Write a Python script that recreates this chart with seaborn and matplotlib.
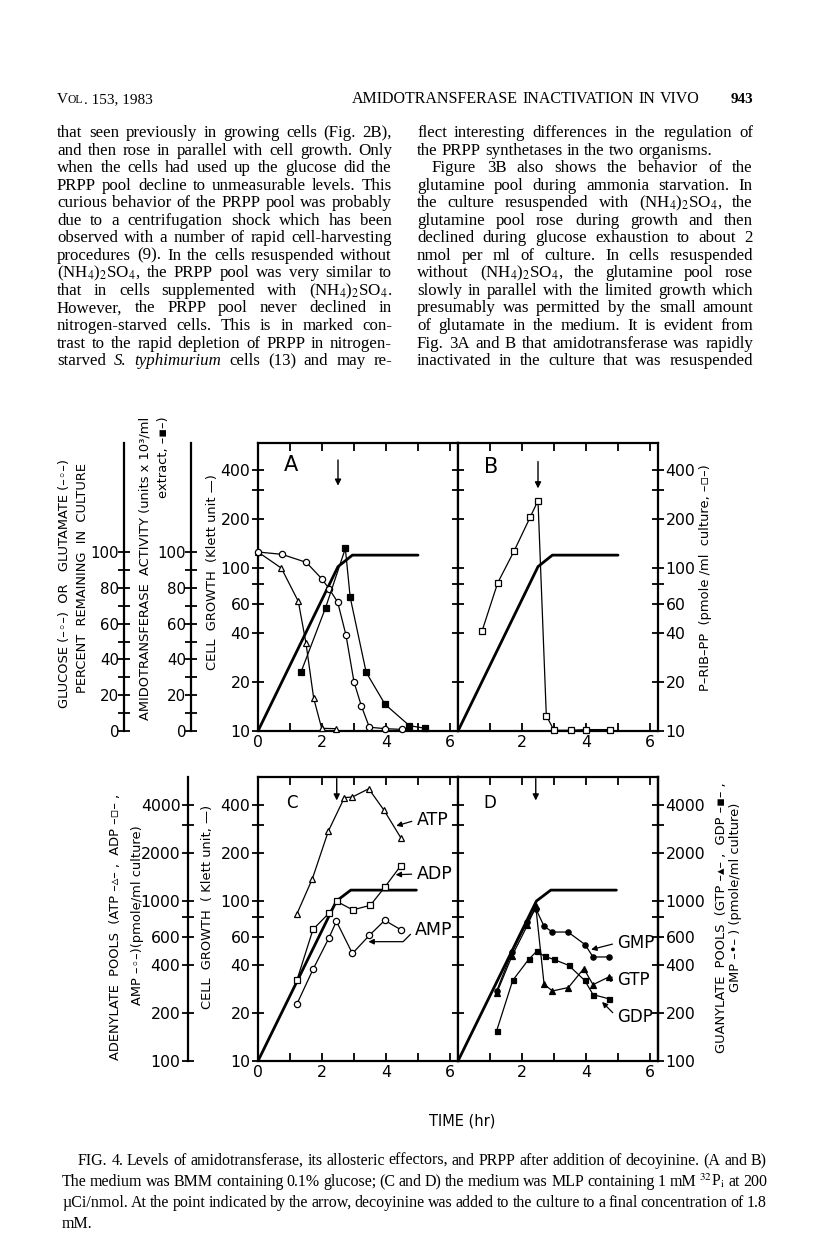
import matplotlib
matplotlib.use("Agg")
import matplotlib.pyplot as plt
from matplotlib.ticker import FixedLocator, NullFormatter, FuncFormatter
import seaborn as sns

# ---------------- data (time in hr) ----------------
# panel A : percent remaining / amidotransferase activity (linear 0-100 scale)
glucose_t = [0, 0.73, 1.26, 1.5, 1.74, 1.99, 2.44]
glucose = [100, 91, 72.4, 49, 18.3, 1.5, 1.3]
glutamate_t = [0, 0.75, 1.51, 1.99, 2.22, 2.49, 2.75, 3.0, 3.23, 3.48, 3.98, 4.49]
glutamate = [100, 98.7, 94.2, 85.1, 79.5, 72.0, 53.5, 27.4, 14.0, 2.1, 1.3, 0.9]
amido_t = [1.35, 2.11, 2.73, 2.88, 3.38, 3.97, 4.73, 5.22]
amido = [33.2, 68.8, 102, 74.8, 32.8, 14.9, 3.0, 1.5]

# cell growth (Klett units)
growth_t_ab = [0, 2.5, 2.95, 5.0]
growth_ab = [10, 102, 120, 120]
growth_t_cd = [0, 2.45, 2.9, 4.95]
growth_cd = [10, 100, 117, 117]

# panel B : P-RIB-PP (pmole/ml culture)
prpp_t = [0.75, 1.24, 1.76, 2.26, 2.5, 2.76, 3.0, 3.52, 4.0, 4.75]
prpp = [41, 81, 128, 206, 259, 12.4, 10.1, 10.1, 10.2, 10.2]

# panel C : adenylate pools (pmole/ml culture)
atp_t = [1.22, 1.70, 2.20, 2.70, 2.95, 3.46, 3.94, 4.46]
atp = [834, 1380, 2740, 4430, 4470, 5030, 3690, 2490]
adp_t = [1.22, 1.72, 2.22, 2.46, 2.96, 3.51, 3.96, 4.46]
adp = [322, 665, 840, 995, 880, 940, 1220, 1660]
amp_t = [1.22, 1.72, 2.22, 2.45, 2.95, 3.48, 3.96, 4.46]
amp = [228, 374, 590, 747, 470, 610, 757, 662]

# panel D : guanylate pools (pmole/ml culture)
gmp_t = [1.21, 1.69, 2.17, 2.43, 2.69, 2.95, 3.44, 3.97, 4.22, 4.71]
gmp = [275, 480, 740, 897, 695, 640, 640, 534, 447, 447]
gtp_t = [1.21, 1.69, 2.17, 2.43, 2.69, 2.95, 3.45, 3.93, 4.22, 4.71]
gtp = [266, 455, 705, 926, 302, 274, 288, 378, 300, 335]
gdp_t = [1.21, 1.71, 2.21, 2.46, 2.71, 3.0, 3.46, 3.96, 4.22, 4.71]
gdp = [155, 319, 432, 485, 451, 431, 396, 319, 260, 245]

decoyinine_t = 2.5

klett_major = [10, 20, 40, 60, 100, 200, 400]
klett_minor = [80, 300]
pool_major = [100, 200, 400, 600, 1000, 2000, 4000]
pool_minor = [800, 3000]
pct_major = [0, 20, 40, 60, 80, 100]
pct_minor = [10, 30, 50, 70, 90]

left_col = [
    "that seen previously in growing cells (Fig. 2B),",
    "and then rose in parallel with cell growth. Only",
    "when the cells had used up the glucose did the",
    "PRPP pool decline to unmeasurable levels. This",
    "curious behavior of the PRPP pool was probably",
    "due to a centrifugation shock which has been",
    "observed with a number of rapid cell-harvesting",
    "procedures (9). In the cells resuspended without",
    "(NH$_4$)$_2$SO$_4$, the PRPP pool was very similar to",
    "that in cells supplemented with (NH$_4$)$_2$SO$_4$.",
    "However, the PRPP pool never declined in",
    "nitrogen-starved cells. This is in marked con-",
    "trast to the rapid depletion of PRPP in nitrogen-",
    "starved ~S. ~typhimurium cells (13) and may re-",
]
right_col = [
    "flect interesting differences in the regulation of",
    "the PRPP synthetases in the two organisms.",
    "Figure 3B also shows the behavior of the",
    "glutamine pool during ammonia starvation. In",
    "the culture resuspended with (NH$_4$)$_2$SO$_4$, the",
    "glutamine pool rose during growth and then",
    "declined during glucose exhaustion to about 2",
    "nmol per ml of culture. In cells resuspended",
    "without (NH$_4$)$_2$SO$_4$, the glutamine pool rose",
    "slowly in parallel with the limited growth which",
    "presumably was permitted by the small amount",
    "of glutamate in the medium. It is evident from",
    "Fig. 3A and B that amidotransferase was rapidly",
    "inactivated in the culture that was resuspended",
]
caption_lines = [
    "FIG. 4.  Levels of amidotransferase, its allosteric effectors, and PRPP after addition of decoyinine. (A and B)",
    "The medium was BMM containing 0.1% glucose; (C and D) the medium was MLP containing 1 mM $^{32}$P$_\\mathrm{i}$ at 200",
    "\u00b5Ci/nmol. At the point indicated by the arrow, decoyinine was added to the culture to a final concentration of 1.8",
    "mM.",
]

# ---------------- style ----------------
sns.set_style("ticks")
plt.rcParams["font.family"] = ["DejaVu Sans"]
plt.rcParams["mathtext.fontset"] = "stix"
plt.rcParams.update({"axes.edgecolor": "black", "xtick.color": "black",
                     "ytick.color": "black", "text.color": "black"})

W, H = 816, 1248
fig = plt.figure(figsize=(W / 100, H / 100), dpi=100)
fig.patch.set_facecolor("white")
renderer = fig.canvas.get_renderer()
SERIF = "Liberation Serif"
TICK_FS = 11.3


def fy(y):
    return 1 - y / H


def panel(left, top, bottom):
    return fig.add_axes([left / W, fy(bottom), 200 / W, (bottom - top) / H])


def log_ticks(axis, major, minor, labels=True):
    axis.set_major_locator(FixedLocator(major))
    axis.set_minor_locator(FixedLocator(minor))
    axis.set_minor_formatter(NullFormatter())
    if labels:
        axis.set_major_formatter(FuncFormatter(lambda v, p: f"{v:g}"))
    else:
        axis.set_major_formatter(NullFormatter())


def side_axis(ax, where, pos=None, fs=TICK_FS, pad=1):
    t = ax.twinx()
    for s in t.spines.values():
        s.set_visible(False)
    t.spines[where].set_visible(True)
    t.spines[where].set_linewidth(1.6)
    if pos is not None:
        t.spines[where].set_position(("axes", pos))
    t.yaxis.set_ticks_position(where)
    t.yaxis.set_label_position(where)
    t.tick_params(axis="y", which="both", direction="inout", length=9, width=1.3,
                  labelsize=fs, pad=pad)
    return t


def series(ax, x, y, marker, face, ms=4.8):
    sns.lineplot(x=x, y=y, ax=ax, color="black", linewidth=0.9, marker=marker,
                 markersize=ms, markerfacecolor=face, markeredgecolor="black",
                 markeredgewidth=0.9, clip_on=False, zorder=3)


def growth(ax, x, y):
    sns.lineplot(x=x, y=y, ax=ax, color="black", linewidth=2.0, zorder=2)


def arrow(ax, x, y0, y1):
    ax.annotate("", xy=(x, y1), xytext=(x, y0),
                arrowprops=dict(arrowstyle="-|>", color="black", lw=1.0,
                                mutation_scale=9, shrinkA=0, shrinkB=0))


axA = panel(258, 443, 731)
axB = panel(458, 443, 731)
axC = panel(258, 777, 1061)
axD = panel(458, 777, 1061)

# twin axes (scales of their own)
pctA = side_axis(axA, "left", -0.67, fs=10.8, pad=-0.5)
amidoA = side_axis(axA, "left", -0.335, fs=10.8, pad=-0.5)
poolC = side_axis(axC, "left", -0.35)
poolD = side_axis(axD, "right")

for ax in (axA, axB, axC, axD):
    ax.set_yscale("log")
    for s in ax.spines.values():
        s.set_linewidth(1.6)

for t in (pctA, amidoA):
    t.set_ylim(0, 160.9)
    t.yaxis.set_major_locator(FixedLocator(pct_major))
    t.yaxis.set_minor_locator(FixedLocator(pct_minor))
    t.yaxis.set_minor_formatter(NullFormatter())
    t.tick_params(axis="y", which="both", length=8)
for t in (poolC, poolD):
    t.set_yscale("log")
    t.set_ylim(100, 5960)
    log_ticks(t.yaxis, pool_major, pool_minor)

# ---- panel A ----
growth(axA, growth_t_ab, growth_ab)
series(pctA, glucose_t, glucose, "^", "white")
series(pctA, glutamate_t, glutamate, "o", "white", ms=4.5)
series(amidoA, amido_t, amido, "s", "black", ms=4.5)
arrow(axA, decoyinine_t, 460, 320)

# ---- panel B ----
growth(axB, growth_t_ab, growth_ab)
series(axB, prpp_t, prpp, "s", "white", ms=4.5)
arrow(axB, decoyinine_t, 450, 308)

# ---- panel C ----
growth(axC, growth_t_cd, growth_cd)
series(poolC, atp_t, atp, "^", "white")
series(poolC, adp_t, adp, "s", "white", ms=4.5)
series(poolC, amp_t, amp, "o", "white", ms=4.5)
arrow(axC, 2.46, 582, 425)

# ---- panel D ----
growth(axD, growth_t_cd, growth_cd)
series(poolD, gmp_t, gmp, "o", "black", ms=3.8)
series(poolD, gtp_t, gtp, "^", "black", ms=3.8)
series(poolD, gdp_t, gdp, "s", "black", ms=3.6)
arrow(axD, 2.43, 582, 425)

# ---- axes cosmetics ----
for ax, ytop in ((axA, 585), (axB, 585), (axC, 596), (axD, 596)):
    ax.set_xlim(0, 6.25)
    ax.set_ylim(10, ytop)
    ax.set_xlabel("")
    ax.set_ylabel("")
    ax.set_xticks(range(7))
    ax.tick_params(axis="x", which="major", direction="in", length=6, width=1.3,
                   top=True, bottom=True, labelsize=TICK_FS, pad=3)
    ax.tick_params(axis="y", which="both", direction="inout", length=9, width=1.3,
                   labelsize=TICK_FS, pad=1)
for t in (pctA, amidoA, poolC, poolD):
    t.set_xlim(0, 6.25)
    t.set_ylabel("")

for ax in (axA, axC):
    ax.set_xticklabels(["0", "", "2", "", "4", "", "6"])
    log_ticks(ax.yaxis, klett_major, klett_minor)
    ax.yaxis.set_ticks_position("left")
for ax in (axB, axD):
    ax.set_xticklabels(["", "", "2", "", "4", "", "6"])
    log_ticks(ax.yaxis, klett_major, klett_minor, labels=False)
    ax.yaxis.set_ticks_position("left")
# B carries the P-RIB-PP scale on its right side
axB.tick_params(axis="y", which="both", right=True, labelright=True, labelleft=False)
axB.yaxis.set_major_formatter(FuncFormatter(lambda v, p: f"{v:g}"))

# panel letters
for ax, letter, x, y, fs in ((axA, "A", 0.165, 0.924, 15), (axB, "B", 0.168, 0.918, 15),
                             (axC, "C", 0.17, 0.91, 12), (axD, "D", 0.16, 0.91, 12)):
    ax.text(x, y, letter, transform=ax.transAxes, ha="center", va="center", fontsize=fs)

# pool labels with leaders
lead = dict(arrowstyle="-|>", color="black", lw=0.9, mutation_scale=8,
            shrinkA=1, shrinkB=0, relpos=(0, 0.5))
poolC.annotate("ATP", xy=(4.32, 2950), xytext=(4.95, 3210), va="center", fontsize=12.5,
               arrowprops=lead)
poolC.annotate("ADP", xy=(4.3, 1460), xytext=(4.95, 1475), va="center", fontsize=12.5,
               arrowprops=lead)
poolC.annotate("AMP", xy=(3.45, 557), xytext=(4.9, 659), va="center", fontsize=12.5,
               arrowprops=dict(lead, connectionstyle="angle,angleA=45,angleB=0,rad=0"))
poolD.annotate("GMP", xy=(4.16, 497), xytext=(4.97, 547), va="center", fontsize=12,
               arrowprops=lead)
poolD.annotate("GTP", xy=(4.62, 330), xytext=(4.97, 319), va="center", fontsize=12,
               arrowprops=lead)
poolD.annotate("GDP", xy=(4.5, 234), xytext=(4.97, 188), va="center", fontsize=12,
               arrowprops=dict(lead, connectionstyle="angle,angleA=0,angleB=-45,rad=0"))

# rotated axis titles
side_labels = [
    (65, 584, "GLUCOSE (\u2013\u25e6\u2013)  OR   GLUTAMATE (\u2013\u25e6\u2013)"),
    (82, 578, "PERCENT  REMAINING  IN  CULTURE"),
    (145, 568, "AMIDOTRANSFERASE  ACTIVITY (units x 10\u00b3/ml"),
    (163, 457, "extract, \u2013\u25aa\u2013)"),
    (212, 572, "CELL  GROWTH  (Klett unit \u2014)"),
    (705, 578, "P\u2013RIB\u2013PP  (pmole /ml  culture, \u2013\u25ab\u2013)"),
    (116, 927, "ADENYLATE  POOLS  (ATP \u2013\u25b5\u2013 ,  ADP \u2013\u25ab\u2013 ,"),
    (137, 915, "AMP \u2013\u25e6\u2013)(pmole/ml culture)"),
    (208, 907, "CELL  GROWTH  ( Klett unit, \u2014)"),
    (722, 918, "GUANYLATE  POOLS  (GTP \u2013\u25b4\u2013 ,  GDP \u2013\u25aa\u2013 ,"),
    (735, 897, "GMP \u2013\u2022\u2013 ) (pmole/ml culture)"),
]
for x, y, s in side_labels:
    fig.text(x / W, fy(y), s, rotation=90, ha="center", va="center", fontsize=9.4)

fig.text(462 / W, fy(1121), "TIME (hr)", ha="center", va="center", fontsize=10.5)


# ---------------- page text ----------------
def text_line(line, x0, x1, y, size, justify=True, weight="normal", min_gap=3.0):
    words = line.split()
    objs = []
    for w in words:
        style = "normal"
        if w.startswith("~"):
            w, style = w[1:], "italic"
        objs.append(fig.text(0, fy(y), w, fontsize=size, family=SERIF, style=style,
                             weight=weight, va="baseline", ha="left"))
    widths = [o.get_window_extent(renderer).width for o in objs]
    n = len(objs)
    avail = x1 - x0
    if sum(widths) + min_gap * (n - 1) > avail:
        scale = (avail - min_gap * (n - 1)) / sum(widths)
        for o in objs:
            o.set_fontsize(size * scale)
        widths = [o.get_window_extent(renderer).width for o in objs]
    if justify and n > 1:
        gap = (avail - sum(widths)) / (n - 1)
    else:
        gap = size * 0.25 * 100 / 72
    x = x0
    for o, w in zip(objs, widths):
        o.set_x(x / W)
        x += w + gap


# running head
x = 57
for piece, fs in (("V", 11), ("OL", 8.4), (". 153, 1983", 11)):
    t = fig.text(x / W, fy(103), piece, fontsize=fs, family=SERIF, va="baseline")
    x += t.get_window_extent(renderer).width
text_line("AMIDOTRANSFERASE INACTIVATION IN VIVO", 352, 700, 103, 11.5)
fig.text(753 / W, fy(103), "943", fontsize=11, family=SERIF, weight="bold",
         ha="right", va="baseline")

for i, line in enumerate(left_col):
    text_line(line, 57, 392, 137 + i * 17.55, 12.2)
for i, line in enumerate(right_col):
    x0 = 432 if i == 2 else 417
    text_line(line, x0, 753, 137 + i * 17.55, 12.2, justify=(i != 1))

for i, line in enumerate(caption_lines):
    x0 = 78 if i == 0 else 62
    text_line(line, x0, 767, 1165 + i * 21, 11.5, justify=(i != len(caption_lines) - 1),
              min_gap=2.5)

fig.savefig("out.png", dpi=100, facecolor="white")
